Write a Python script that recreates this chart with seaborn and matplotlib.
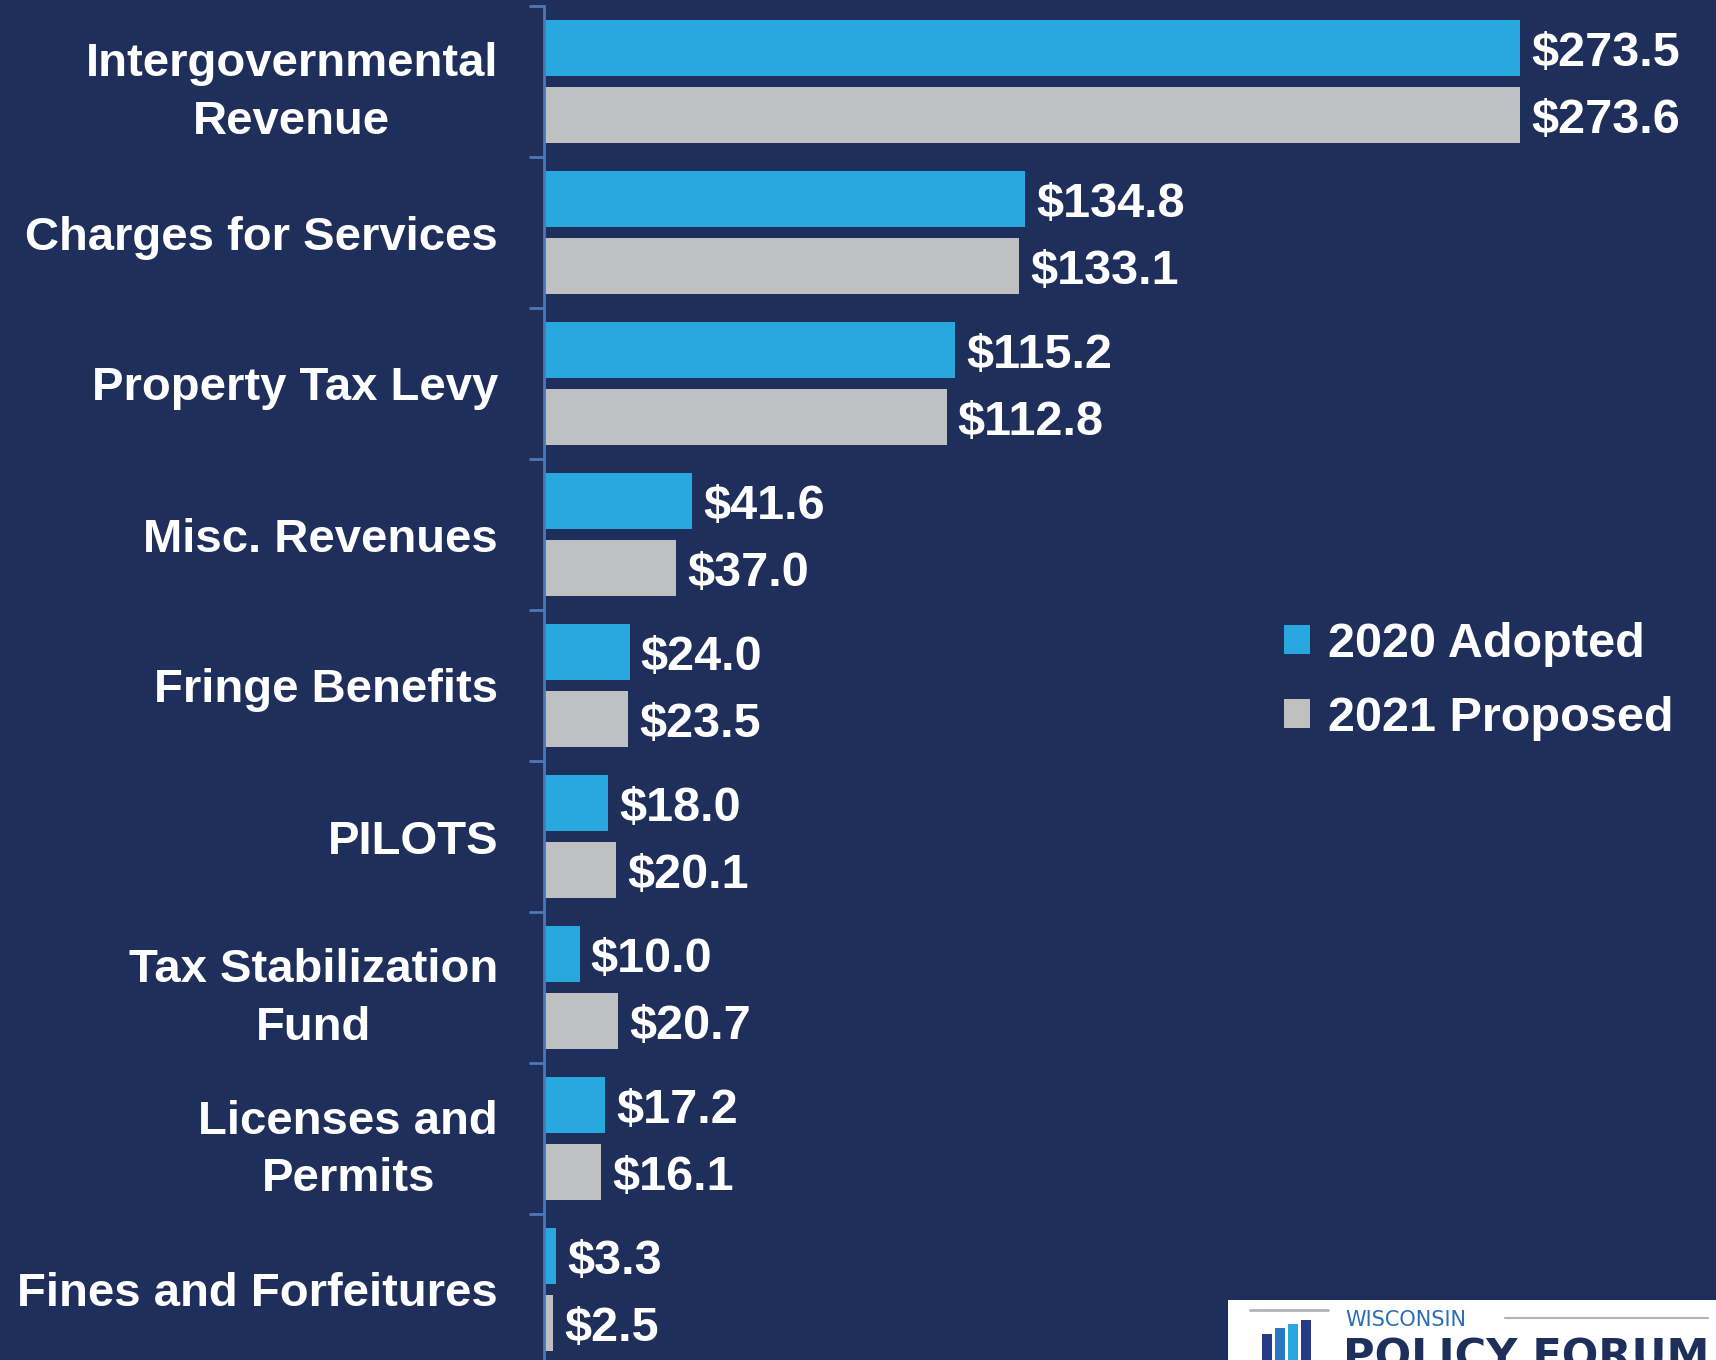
import pandas as pd
import seaborn as sns
import matplotlib.pyplot as plt
from matplotlib.patches import Patch, Rectangle
from matplotlib.lines import Line2D

categories = ['Intergovernmental\nRevenue', 'Charges for Services', 'Property Tax Levy',
              'Misc. Revenues', 'Fringe Benefits', 'PILOTS', 'Tax Stabilization\nFund',
              'Licenses and\nPermits', 'Fines and Forfeitures']
adopted_2020 = [273.5, 134.8, 115.2, 41.6, 24.0, 18.0, 10.0, 17.2, 3.3]
proposed_2021 = [273.6, 133.1, 112.8, 37.0, 23.5, 20.1, 20.7, 16.1, 2.5]
series = ['2020 Adopted', '2021 Proposed']

bg = '#1f2f5b'
blue = '#29a8e0'
gray = '#bfc0c2'
spine_col = '#4a78b8'

df = pd.DataFrame({
    'category': categories * 2,
    'value': adopted_2020 + proposed_2021,
    'series': [series[0]] * len(categories) + [series[1]] * len(categories),
})

sns.set_style('white')
plt.rcParams['font.family'] = ['Liberation Sans', 'DejaVu Sans']
plt.rcParams['font.weight'] = 'bold'
fs = 34

fig = plt.figure(figsize=(17.16, 13.6), dpi=100, facecolor=bg)
ax = fig.add_axes([544 / 1716, -5 / 1360, 1 - 544 / 1716, 1359 / 1360])
ax.set_facecolor(bg)

sns.barplot(data=df, y='category', x='value', hue='series', orient='h',
            palette=[blue, gray], width=0.88, gap=0.16, ax=ax, legend=False,
            saturation=1, linewidth=0)

# value labels, nudged a bit down like the original
for cont in ax.containers:
    anns = ax.bar_label(cont, labels=[f'${v:.1f}' for v in cont.datavalues], padding=8,
                        color='white', fontsize=fs + 1, fontweight='bold')
    for a in anns:
        a.xyann = (a.xyann[0], a.xyann[1] - 4)

ax.set_xlim(0, (1716 - 544) / 3.569)
ax.set_ylim(len(categories) - 0.5, -0.5)
ax.set_xlabel('')
ax.set_ylabel('')
ax.set_xticks([])
for s in ['top', 'right', 'bottom']:
    ax.spines[s].set_visible(False)
ax.spines['left'].set_color(spine_col)
ax.spines['left'].set_linewidth(2)

ax.set_yticks(range(len(categories)))
ax.set_yticklabels(categories, multialignment='center', linespacing=1.4)
ax.tick_params(axis='y', which='major', length=0, pad=33, labelsize=fs,
               labelcolor='white')
ax.set_yticks([i - 0.5 for i in range(len(categories) + 1)], minor=True)
ax.tick_params(axis='y', which='minor', left=True, length=11, width=2,
               color=spine_col, direction='out')

handles = [Patch(facecolor=blue, edgecolor='none'), Patch(facecolor=gray, edgecolor='none')]
fig.legend(handles, series, loc='upper left', bbox_to_anchor=(1240 / 1716, 1 - 578 / 1360),
           frameon=False, fontsize=fs + 1, labelcolor='white', handlelength=0.55,
           handleheight=0.55, handletextpad=0.35, labelspacing=0.6)

# logo box at bottom right
fig.patches.append(Rectangle((1228 / 1716, 0), 1 - 1228 / 1716, 60 / 1360,
                             transform=fig.transFigure, facecolor='white',
                             edgecolor='none', zorder=5))
fig.lines.append(Line2D([1250 / 1716, 1328 / 1716], [1 - 1310 / 1360] * 2,
                        transform=fig.transFigure, color='#b0b3b8', lw=2, zorder=6))
for i, (c, h) in enumerate(zip(['#253b8a', '#2a78c0', '#29a8e0', '#253b8a'], [26, 32, 36, 40])):
    fig.patches.append(Rectangle(((1262 + i * 13) / 1716, 0), 10 / 1716, h / 1360,
                                 transform=fig.transFigure, facecolor=c,
                                 edgecolor='none', zorder=6))
fig.text(1345 / 1716, 1 - 1310 / 1360, 'WISCONSIN', color='#2a6fb5', fontsize=15,
         family='DejaVu Sans', fontweight='normal', va='top', ha='left', zorder=6)
fig.lines.append(Line2D([1505 / 1716, 1708 / 1716], [1 - 1318 / 1360] * 2,
                        transform=fig.transFigure, color='#b0b3b8', lw=1.5, zorder=6))
fig.text(1343 / 1716, 1 - 1336 / 1360, 'POLICY FORUM', color=bg, fontsize=31,
         family='DejaVu Sans', fontweight='bold', va='top', ha='left', zorder=6)

fig.savefig('out.png', dpi=100, facecolor=bg)
